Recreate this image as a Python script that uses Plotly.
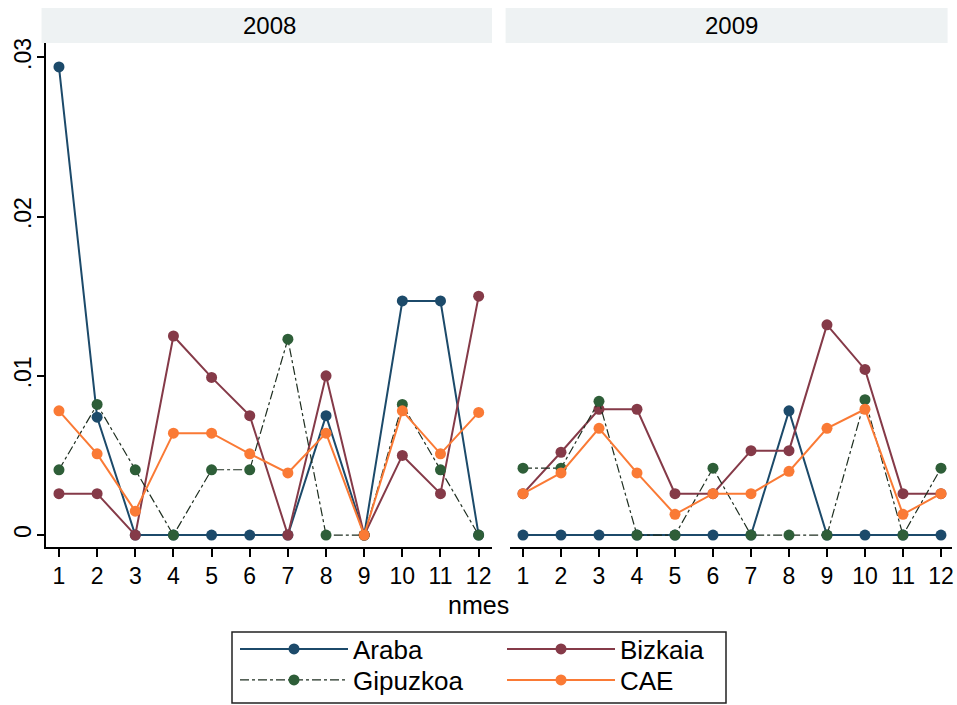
import plotly.graph_objects as go

months = list(range(1, 13))
month_labels = [str(m) for m in months]
years = ["2008", "2009"]

araba_2008 = [0.0294, 0.0074, 0, 0, 0, 0, 0, 0.0075, 0, 0.0147, 0.0147, 0]
bizkaia_2008 = [0.0026, 0.0026, 0, 0.0125, 0.0099, 0.0075, 0, 0.0100, 0, 0.0050, 0.0026, 0.0150]
gipuzkoa_2008 = [0.0041, 0.0082, 0.0041, 0, 0.0041, 0.0041, 0.0123, 0, 0, 0.0082, 0.0041, 0]
cae_2008 = [0.0078, 0.0051, 0.0015, 0.0064, 0.0064, 0.0051, 0.0039, 0.0064, 0, 0.0078, 0.0051, 0.0077]

araba_2009 = [0, 0, 0, 0, 0, 0, 0, 0.0078, 0, 0, 0, 0]
bizkaia_2009 = [0.0026, 0.0052, 0.0079, 0.0079, 0.0026, 0.0026, 0.0053, 0.0053, 0.0132, 0.0104, 0.0026, 0.0026]
gipuzkoa_2009 = [0.0042, 0.0042, 0.0084, 0, 0, 0.0042, 0, 0, 0, 0.0085, 0, 0.0042]
cae_2009 = [0.0026, 0.0039, 0.0067, 0.0039, 0.0013, 0.0026, 0.0026, 0.0040, 0.0067, 0.0079, 0.0013, 0.0026]

series_names = ["Araba", "Bizkaia", "Gipuzkoa", "CAE"]
data = {
    "2008": [araba_2008, bizkaia_2008, gipuzkoa_2008, cae_2008],
    "2009": [araba_2009, bizkaia_2009, gipuzkoa_2009, cae_2009],
}
y_ticks = [0, 0.01, 0.02, 0.03]
y_tick_labels = ["0", ".01", ".02", ".03"]

colors = {"Araba": "#1c4a6a", "Bizkaia": "#853a48", "Gipuzkoa": "#2e5e38", "CAE": "#fa7a35"}
line_styles = {
    "Araba": dict(color="#1c4a6a", width=2),
    "Bizkaia": dict(color="#853a48", width=2),
    "Gipuzkoa": dict(color="#1e2e20", width=1.2, dash="dashdot"),
    "CAE": dict(color="#fa7a35", width=2),
}
legend_of = {"Araba": "legend", "Bizkaia": "legend2", "Gipuzkoa": "legend3", "CAE": "legend4"}

fig = go.Figure()
for i, yr in enumerate(years):
    xa = "x" if i == 0 else "x2"
    ya = "y" if i == 0 else "y2"
    for name, vals in zip(series_names, data[yr]):
        fig.add_trace(go.Scatter(
            x=months, y=vals, mode="lines+markers", name=name,
            line=line_styles[name],
            marker=dict(color=colors[name], size=11),
            xaxis=xa, yaxis=ya, showlegend=(i == 0),
            legend=legend_of[name],
        ))

W, H = 957, 705
ml, mr, mt, mb = 46, 5, 43, 158
pw = W - ml - mr
ph = H - mt - mb

def px_x(p):
    return (p - ml) / pw

def px_y(p):
    return (H - mb - p) / ph

FONT = "Liberation Sans, Arial, sans-serif"
axis_font = dict(family=FONT, size=23, color="black")
xcommon = dict(tickmode="array", tickvals=months, ticktext=month_labels,
               showline=True, linecolor="black", linewidth=1.5, ticks="outside", ticklen=8,
               tickwidth=1.5, tickcolor="black", showgrid=False, zeroline=False, tickfont=axis_font,
               ticklabeloverflow="allow")
ycommon = dict(range=[-0.00075, 0.0309], showgrid=False, zeroline=False)

legend_common = dict(xanchor="left", yanchor="middle", orientation="v", itemwidth=108,
                     font=dict(family=FONT, size=26, color="black"), bgcolor="rgba(0,0,0,0)",
                     itemclick=False, itemdoubleclick=False)
col_x = [235, 502]
row_y = [649, 680]

fig.update_layout(
    width=W, height=H,
    margin=dict(l=ml, r=mr, t=mt, b=mb, autoexpand=False),
    paper_bgcolor="white", plot_bgcolor="white",
    font=dict(family=FONT, color="black"),
    xaxis=dict(domain=[0, px_x(492)], range=[0.66, 12.35], anchor="y", **xcommon),
    xaxis2=dict(domain=[px_x(510), 1], range=[0.658, 12.29], anchor="y2", **xcommon),
    yaxis=dict(domain=[0, 1], anchor="x", tickmode="array", tickvals=y_ticks, ticktext=y_tick_labels,
               tickangle=-90, showline=True, linecolor="black", linewidth=1.5, ticks="outside",
               ticklen=7, tickwidth=1.5, tickcolor="black", tickfont=axis_font,
               ticklabelstandoff=-3, **ycommon),
    yaxis2=dict(domain=[0, 1], anchor="x2", showticklabels=False, showline=False, ticks="", **ycommon),
    legend=dict(x=px_x(col_x[0]), y=px_y(row_y[0]), **legend_common),
    legend2=dict(x=px_x(col_x[1]), y=px_y(row_y[0]), **legend_common),
    legend3=dict(x=px_x(col_x[0]), y=px_y(row_y[1]), **legend_common),
    legend4=dict(x=px_x(col_x[1]), y=px_y(row_y[1]), **legend_common),
    showlegend=True,
)

strip_top = px_y(8)
shapes = []
for xd, x1 in [("x domain", 1.0), ("x2 domain", 0.99)]:
    shapes.append(dict(type="rect", xref=xd, yref="paper", x0=-0.01, x1=x1, y0=1.0, y1=strip_top,
                       fillcolor="#eef2f3", line=dict(width=0), layer="below"))
shapes.append(dict(type="rect", xref="paper", yref="paper", x0=px_x(232), x1=px_x(726),
                   y0=px_y(703), y1=px_y(632), line=dict(color="#222222", width=1.5),
                   fillcolor="rgba(0,0,0,0)"))
fig.update_layout(shapes=shapes)

annotations = []
for xd, yr in zip(["x domain", "x2 domain"], years):
    annotations.append(dict(text=yr, xref=xd, yref="paper", x=0.5, y=(1 + strip_top) / 2,
                            showarrow=False, font=dict(family=FONT, size=24, color="black"),
                            xanchor="center", yanchor="middle"))
annotations.append(dict(text="nmes", xref="paper", yref="paper", x=px_x(478), y=px_y(605),
                        showarrow=False, font=dict(family=FONT, size=25, color="black"),
                        xanchor="center", yanchor="middle"))
fig.update_layout(annotations=annotations)

fig.write_html("out.html", config={"displayModeBar": False},
               post_script="document.body.style.margin='0';document.body.style.overflow='hidden';")
